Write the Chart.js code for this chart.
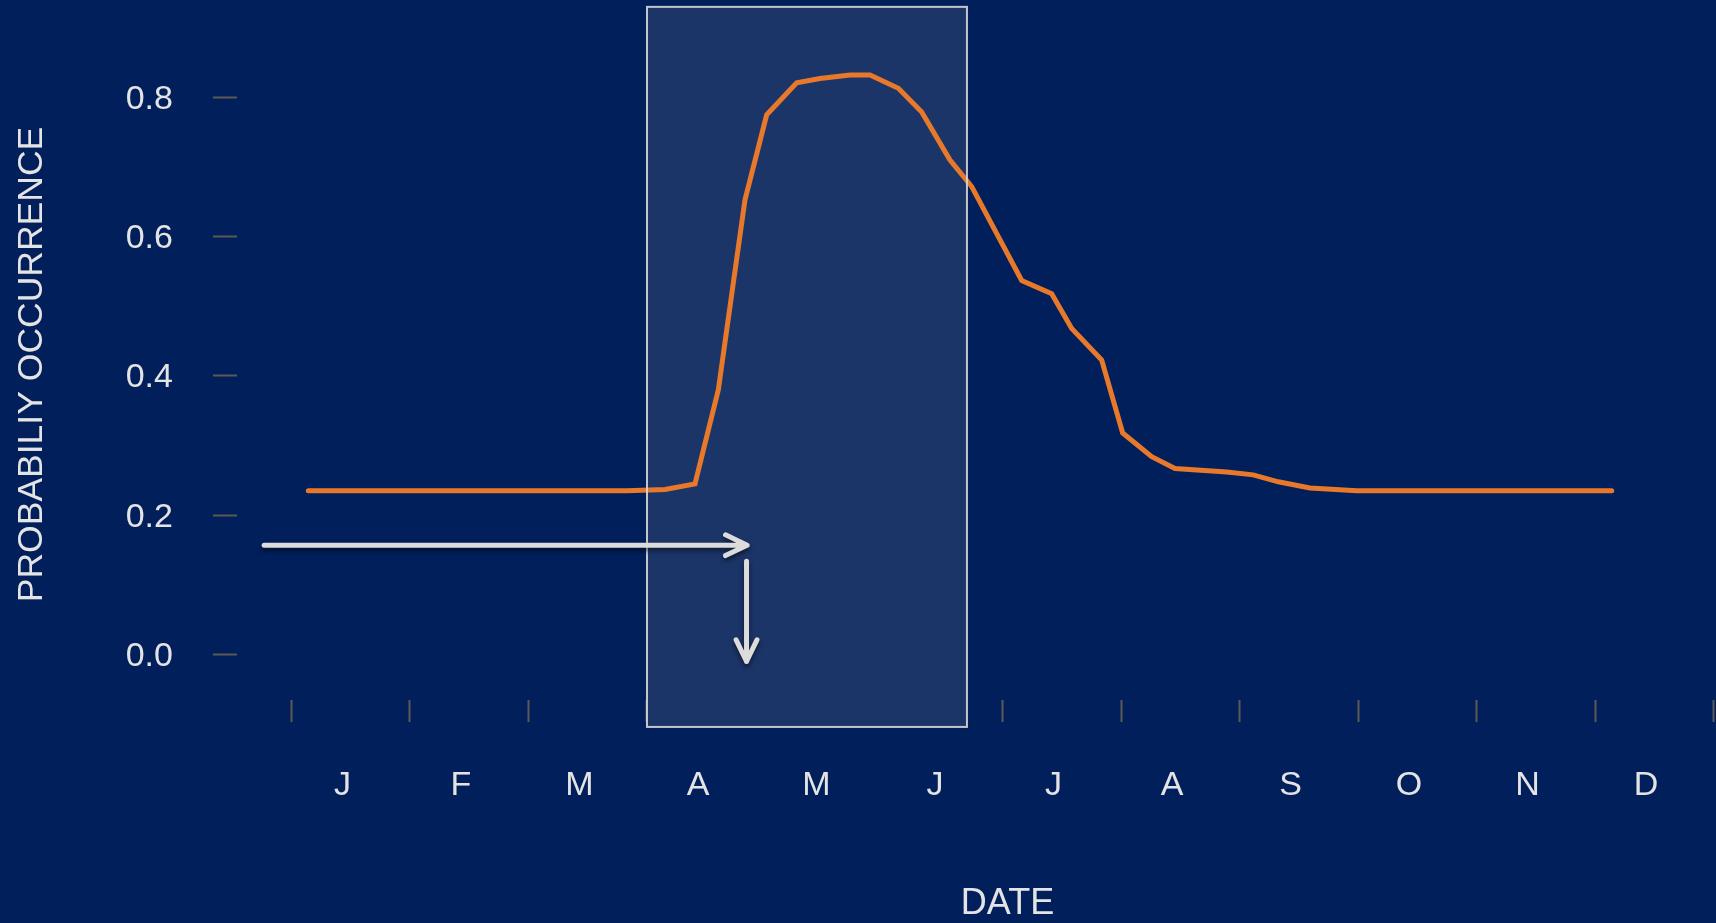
<!DOCTYPE html>
<html>
<head>
<meta charset="utf-8">
<title>Probability occurrence by date</title>
<script src="https://cdn.jsdelivr.net/npm/chart.js@4.4.1/dist/chart.umd.min.js"></script>
<style>
  html, body {
    margin: 0;
    padding: 0;
    width: 1716px;
    height: 923px;
    overflow: hidden;
    background: #001f5b;
  }
  #chart {
    position: absolute;
    left: 0;
    top: 0;
  }
</style>
</head>
<body>
<canvas id="chart" width="1778" height="923"></canvas>
<script>
// month position (0 = 1 Jan, 1 = 1 Feb, ...) and probability
const monthPos = [
  0.142, 2.829, 3.152, 3.405, 3.602, 3.827, 4.010, 4.263, 4.460, 4.713,
  4.882, 5.121, 5.318, 5.557, 5.740, 6.162, 6.415, 6.584, 6.837, 7.014,
  7.259, 7.456, 7.892, 8.116, 8.327, 8.595, 8.989, 11.141,
];
const probability = [
  0.235, 0.235, 0.237, 0.245, 0.380, 0.653, 0.775, 0.821, 0.827, 0.832,
  0.832, 0.813, 0.779, 0.710, 0.672, 0.537, 0.518, 0.468, 0.423, 0.318,
  0.284, 0.267, 0.262, 0.258, 0.248, 0.239, 0.235, 0.235,
];

const monthTicks = [0, 1, 2, 3, 4, 5, 6, 7, 8, 9, 10, 11, 12];
const monthLabels = ["J", "F", "M", "A", "M", "J", "J", "A", "S", "O", "N", "D", ""];
const yTicks = [0, 0.2, 0.4, 0.6, 0.8];

// highlighted window (1 Apr to ~21 Jun) and the two arrows, in data units
const windowX = [3.0, 5.7];
const windowY = [-0.104, 0.93];
const arrowH = [[-0.231, 0.157], [3.845, 0.157]];
const arrowV = [[3.84, 0.134], [3.84, -0.010]];

const textColor = "#e4e4e4";
const tickColor = "#5c5a55";
const fontFamily = "'Liberation Sans', Arial, sans-serif";

const windowPlugin = {
  id: "windowBox",
  beforeDatasetsDraw(chart) {
    const { ctx, scales } = chart;
    const x0 = scales.x.getPixelForValue(windowX[0]);
    const x1 = scales.x.getPixelForValue(windowX[1]);
    const y0 = scales.y.getPixelForValue(windowY[1]);
    const y1 = scales.y.getPixelForValue(windowY[0]);
    ctx.save();
    ctx.fillStyle = "#1c3568";
    ctx.fillRect(x0, y0, x1 - x0, y1 - y0);
    ctx.restore();
  },
  afterDatasetsDraw(chart) {
    const { ctx, scales } = chart;
    const x0 = scales.x.getPixelForValue(windowX[0]);
    const x1 = scales.x.getPixelForValue(windowX[1]);
    const y0 = scales.y.getPixelForValue(windowY[1]);
    const y1 = scales.y.getPixelForValue(windowY[0]);
    ctx.save();
    ctx.strokeStyle = "rgba(215, 215, 215, 0.9)";
    ctx.lineWidth = 2;
    ctx.strokeRect(x0, y0, x1 - x0, y1 - y0);
    ctx.restore();

    // arrows
    const px = (p) => [scales.x.getPixelForValue(p[0]), scales.y.getPixelForValue(p[1])];
    ctx.save();
    ctx.strokeStyle = "#dcdcdc";
    ctx.lineWidth = 5;
    ctx.lineCap = "round";
    ctx.lineJoin = "round";
    ctx.shadowColor = "rgba(0, 0, 0, 0.55)";
    ctx.shadowBlur = 5;
    ctx.shadowOffsetY = 3;
    [arrowH, arrowV].forEach((arrow) => {
      const [ax, ay] = px(arrow[0]);
      const [bx, by] = px(arrow[1]);
      const ang = Math.atan2(by - ay, bx - ax);
      const head = 24;
      const spread = 0.45;
      ctx.beginPath();
      ctx.moveTo(ax, ay);
      ctx.lineTo(bx, by);
      ctx.moveTo(bx - head * Math.cos(ang - spread), by - head * Math.sin(ang - spread));
      ctx.lineTo(bx, by);
      ctx.lineTo(bx - head * Math.cos(ang + spread), by - head * Math.sin(ang + spread));
      ctx.stroke();
    });
    ctx.restore();
  },
};

const ctx = document.getElementById("chart").getContext("2d");

new Chart(ctx, {
  type: "line",
  data: {
    datasets: [
      {
        data: monthPos.map((m, i) => ({ x: m, y: probability[i] })),
        borderColor: "#e8792a",
        borderWidth: 5,
        borderCapStyle: "round",
        pointRadius: 0,
        tension: 0,
      },
    ],
  },
  options: {
    responsive: false,
    animation: false,
    devicePixelRatio: 1,
    layout: { padding: { top: 7, left: 0, right: 0, bottom: 0 } },
    plugins: {
      legend: { display: false },
      tooltip: { enabled: false },
    },
    scales: {
      x: {
        type: "linear",
        min: -0.46,
        max: 12.544,
        afterBuildTicks: (scale) => {
          scale.ticks = monthTicks.map((v) => ({ value: v }));
        },
        afterFit: (scale) => {
          scale.paddingLeft = 0;
          scale.paddingRight = 0;
        },
        border: { display: false },
        grid: {
          drawOnChartArea: false,
          tickLength: -22,
          tickWidth: 2,
          tickColor: tickColor,
        },
        ticks: {
          callback: (value, index) => monthLabels[index] ?? "",
          autoSkip: false,
          maxRotation: 0,
          labelOffset: 51,
          padding: 65.6,
          color: textColor,
          font: { family: fontFamily, size: 34 },
        },
        title: {
          display: true,
          text: "DATE",
          color: textColor,
          font: { family: fontFamily, size: 36 },
          padding: { top: 10.8, bottom: -3 },
        },
      },
      y: {
        min: -0.0969,
        max: 0.9298,
        afterBuildTicks: (scale) => {
          scale.ticks = yTicks.map((v) => ({ value: v }));
        },
        afterFit: (scale) => {
          scale.paddingTop = 0;
          scale.paddingBottom = 0;
        },
        border: { display: false },
        grid: {
          drawOnChartArea: false,
          tickLength: 24,
          tickWidth: 2,
          tickColor: tickColor,
        },
        ticks: {
          callback: (value) => value.toFixed(1),
          padding: 40,
          labelOffset: 2,
          color: textColor,
          font: { family: fontFamily, size: 34 },
        },
        title: {
          display: true,
          text: "PROBABILIY OCCURRENCE",
          color: textColor,
          font: { family: fontFamily, size: 35.5 },
          padding: { top: 10.7, bottom: 32.4 },
        },
      },
    },
  },
  plugins: [windowPlugin],
});
</script>
</body>
</html>
